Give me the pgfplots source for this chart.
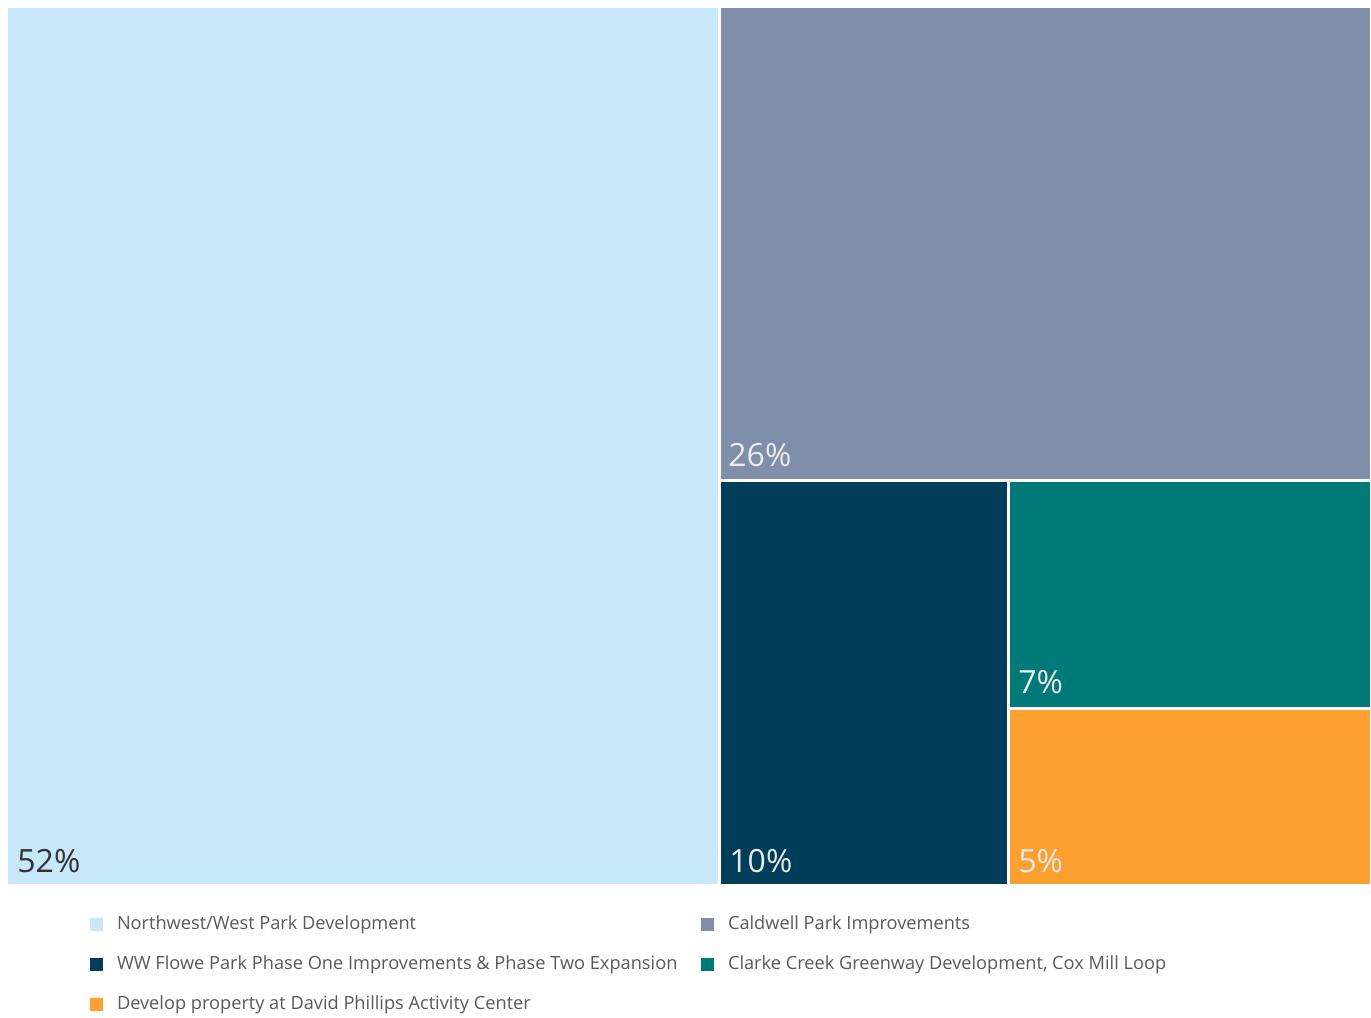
\documentclass[border=0pt]{standalone}
\usepackage{pgfplots}
\pgfplotsset{compat=1.18}
\usepackage{fontspec}
\setmainfont{Open Sans}
\definecolor{cA}{HTML}{C9E7FB}
\definecolor{cB}{HTML}{7F8EA9}
\definecolor{cC}{HTML}{003D58}
\definecolor{cD}{HTML}{007A78}
\definecolor{cE}{HTML}{FDA030}
\definecolor{legtxt}{HTML}{595959}
\begin{document}
\begin{tikzpicture}
\begin{axis}[
  scale only axis,
  width=685.5pt, height=507.5pt,
  xmin=0, xmax=1371, ymin=0, ymax=1015,
  y dir=reverse,
  axis lines=none,
  ticks=none,
  clip=false,
  legend columns=2,
  legend cell align=left,
  legend style={draw=none, fill=none, at={(axis cs:84,911)}, anchor=north west,
    font=\fontsize{9.1pt}{10pt}\selectfont, text=legtxt,
    nodes={inner sep=0pt, text height=7pt, text depth=2pt},
    row sep=11pt,
    /tikz/every odd column/.append style={column sep=6.8pt},
    /tikz/every even column/.append style={column sep=12pt}},
  legend image code/.code={\fill[#1] (0pt,-3.2pt) rectangle (6.5pt,3.2pt);},
]
\path (rel axis cs:0,0) (rel axis cs:1,1);
\addplot[fill=cA, draw=none] coordinates {(8,8) (718,8) (718,884) (8,884)} -- cycle;
\addlegendentry{Northwest/West Park Development}
\addplot[fill=cB, draw=none] coordinates {(721,8) (1370,8) (1370,479) (721,479)} -- cycle;
\addlegendentry{Caldwell Park Improvements}
\addplot[fill=cC, draw=none] coordinates {(721,482) (1007,482) (1007,884) (721,884)} -- cycle;
\addlegendentry{WW Flowe Park Phase One Improvements \& Phase Two Expansion}
\addplot[fill=cD, draw=none] coordinates {(1010,482) (1370,482) (1370,707) (1010,707)} -- cycle;
\addlegendentry{Clarke Creek Greenway Development, Cox Mill Loop}
\addplot[fill=cE, draw=none] coordinates {(1010,710) (1370,710) (1370,884) (1010,884)} -- cycle;
\addlegendentry{Develop property at David Phillips Activity Center}
\begin{scope}[font=\fontsize{16pt}{18pt}\selectfont]
\node[anchor=base west, inner sep=0pt, text=black!80] at (axis cs:17,872) {52\%};
\node[anchor=base west, inner sep=0pt, text=white!92!black] at (axis cs:728,466) {26\%};
\node[anchor=base west, inner sep=0pt, text=white!92!black] at (axis cs:729,872) {10\%};
\node[anchor=base west, inner sep=0pt, text=white!92!black] at (axis cs:1018,693) {7\%};
\node[anchor=base west, inner sep=0pt, text=white!92!black] at (axis cs:1018,872) {5\%};
\end{scope}
\end{axis}
\end{tikzpicture}
\end{document}
